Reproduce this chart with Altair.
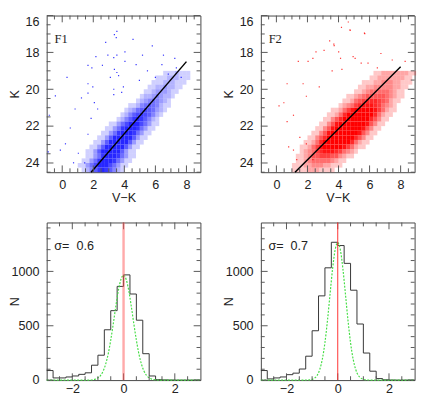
import altair as alt
import pandas as pd

# ---------------- data ----------------
# Top panels: K vs V-K density, rows 0.25 mag tall starting at ROW_K.
# Each row: first V-K bin (bins 0.25 wide) + density digits (0 empty .. 9 saturated)
ROW_K = [19.0, 19.25, 19.5, 19.75, 20.0, 20.25, 20.5, 20.75, 21.0, 21.25, 21.5,
         21.75, 22.0, 22.25, 22.5, 22.75, 23.0, 23.25, 23.5, 23.75, 24.0, 24.25]

F1_START = [5.75, 5.5, 5.25, 5.0, 4.75, 4.5, 4.25, 4.0, 3.75, 3.5, 3.25,
            3.0, 2.75, 2.5, 2.25, 2.0, 1.75, 1.5, 1.5, 1.25, 1.0, 1.0]
F1_DENS = ["0001112111000", "0011122211100", "0011122211100", "0011223221100",
           "0011233321100", "0012234322100", "0012345432100", "0112456542110",
           "0123567653210", "0124678764210", "0124689864210", "1135799975311",
           "1135899985311", "1135899985311", "1136999996311", "1136999996311",
           "1136999996311", "1136999996311", "1135899985311", "1135899985311",
           "1135799975311", "0124689864210"]

F2_START = [5.5, 5.25, 5.0, 4.75, 4.5, 4.25, 4.0, 3.75, 3.5, 3.25, 3.0,
            2.75, 2.5, 2.25, 2.0, 1.75, 1.5, 1.25, 1.0, 0.75, 0.5, 0.25]
F2_DENS = ["00011222222211000", "00011222222211000", "00111223332211100",
           "00112233333221100", "00112344444321100", "01123455555432110",
           "01124567776542110", "01234678887643210", "11246899999864211",
           "11247999999974211", "11357999999975311", "11358999999985311",
           "11358999999985311", "11358999999985311", "11357999999975311",
           "11247999999974211", "11246899999864211", "01234678887643210",
           "01123556665532110", "00112344444321100", "00111223332211100",
           "00011112221111000"]

# isolated stars outside the dense cloud
F1_PT_C = [3.52, 3.36, 3.48, 2.80, 4.04, 3.52, 2.94, 3.32, 2.17, 1.66, 1.91, 2.59, 3.36,
           3.52, 3.63, 3.10, 3.94, 3.32, 1.97, 1.66, 3.32, 3.83,
           4.56, 5.17, 5.80, 6.42, 6.83, 5.49, 7.35, 6.00, 7.66, 4.76, 4.04, 6.52, 4.97, 7.25,
           -0.83, -0.44, -0.12, 0.21, 0.52, 0.83, 1.24, 1.04, 1.45, 0.73, 1.66, 1.86, 2.07,
           2.28, 1.66, 0.31, -0.90]
F1_PT_K = [16.86, 17.03, 17.20, 17.46, 17.97, 18.15, 18.15, 18.28, 18.23, 18.70, 18.84, 18.70, 18.92,
           19.09, 19.26, 19.35, 19.87, 20.00, 19.87, 20.21, 20.29, 20.17,
           17.29, 18.15, 17.65, 18.66, 19.18, 19.00, 18.84, 19.35, 19.35, 18.66, 18.49, 18.15, 19.52, 18.32,
           21.41, 20.36, 23.30, 22.96, 22.10, 21.07, 20.47, 23.47, 23.99, 23.99, 22.44, 21.58, 20.72,
           21.07, 19.70, 19.35, 23.40]
F2_PT_C = [4.63, 4.74, 5.67, 3.43, 3.70, 2.55, 3.07, 4.01, 2.04, 2.35,
           4.94, 5.46, 4.22, 3.59, 6.50, 1.72, 1.93, 2.76, 0.48, 0.17,
           0.69, 1.10, 0.79, 1.10, 1.51, 1.93, 1.31, 2.35, 0.69, 1.41,
           4.19, 4.75, 5.69, 3.72, 4.13, 5.07, 5.90, 7.46, 8.29, 6.73]
F2_PT_K = [16.35, 16.77, 16.95, 17.37, 17.55, 17.97, 17.89, 17.97, 18.49, 18.32,
           18.23, 18.58, 18.92, 19.00, 18.84, 19.70, 20.38, 19.87, 20.73, 20.90,
           21.76, 21.41, 23.13, 23.30, 22.61, 22.96, 23.82, 23.82, 19.70, 18.49,
           16.64, 16.81, 16.98, 17.63, 18.32, 18.32, 18.58, 18.41, 18.49, 18.06]

# fitted lines
F1_LINE_C = [1.86, 8.0]
F1_LINE_K = [24.5, 18.5]
F2_LINE_C = [1.2, 8.0]
F2_LINE_K = [24.5, 18.78]

# Bottom panels: histograms (bins 0.25 wide from -3 to 3)
HIST_EDGES = [-3.0, -2.75, -2.5, -2.25, -2.0, -1.75, -1.5, -1.25, -1.0, -0.75, -0.5, -0.25,
              0.0, 0.25, 0.5, 0.75, 1.0, 1.25, 1.5, 1.75, 2.0, 2.25, 2.5, 2.75, 3.0]
HIST_F1 = [88, 20, 20, 29, 38, 53, 67, 137, 229, 463, 639, 862, 968, 792, 551, 243, 38, 4, 2, 1, 0, 0, 0, 0]
HIST_F2 = [88, 11, 20, 29, 50, 64, 102, 220, 454, 775, 1033, 1268, 1238, 1074, 827, 516, 249, 82, 14, 3, 1, 0, 0, 0]

# dotted gaussian curves
GAUSS_X = [-3.0, -1.4, -1.3, -1.2, -1.1, -1.0, -0.9, -0.8, -0.7, -0.6, -0.5, -0.4, -0.3, -0.2, -0.1,
           0.0, 0.1, 0.2, 0.3, 0.4, 0.5, 0.6, 0.7, 0.8, 0.9, 1.0, 1.1, 1.2, 1.3, 1.4, 3.0]
GAUSS_F1 = [0, 0, 1, 4, 9, 21, 42, 82, 146, 240, 368, 520, 682, 827, 928,
            965, 928, 827, 682, 520, 368, 240, 146, 82, 42, 21, 9, 4, 1, 0, 0]
GAUSS_F2 = [0, 0, 0, 1, 2, 7, 19, 45, 99, 194, 344, 550, 792, 1027, 1201,
            1265, 1201, 1027, 792, 550, 344, 194, 99, 45, 19, 7, 2, 1, 0, 0, 0]

# axis ticks / labels
TOP_X_LABELS = [0, 2, 4, 6, 8]
TOP_X_MINOR = [-0.5, 0.5, 1.0, 1.5, 2.5, 3.0, 3.5, 4.5, 5.0, 5.5, 6.5, 7.0, 7.5, 8.5]
TOP_Y_LABELS = [16, 18, 20, 22, 24]
TOP_Y_MINOR = [16.5, 17.0, 17.5, 18.5, 19.0, 19.5, 20.5, 21.0, 21.5, 22.5, 23.0, 23.5, 24.5]
BOT_X_LABELS = [-2, 0, 2]
BOT_X_MINOR = [-2.5, -1.5, -1.0, -0.5, 0.5, 1.0, 1.5, 2.5]
BOT_Y_LABELS = [0, 500, 1000]
BOT_Y_MINOR = [100, 200, 300, 400, 600, 700, 800, 900, 1100, 1200, 1300, 1400]

XDOM_TOP = [-1.0, 8.9]
YDOM_TOP = [16.0, 24.5]
XDOM_BOT = [-3.0, 3.0]
YDOM_BOT = [0, 1450]

# ---------------- styling ----------------
W, H1, H2 = 159, 162, 163
FONT = "Liberation Sans"
TXT = "#222222"
TICK = "#555555"
BLUE = "#0000ff"
RED = "#ff0000"
GREEN = "#44dd44"


def density_df(starts, dens, maxop):
    recs = []
    for k, c0, s in zip(ROW_K, starts, dens):
        for j, ch in enumerate(s):
            d = int(ch)
            if d:
                recs.append({"c1": c0 + 0.25 * j, "c2": c0 + 0.25 * (j + 1),
                             "k1": k, "k2": k + 0.25, "op": maxop * (d / 9.0) ** 0.7})
    return pd.DataFrame(recs)


def tick_layers(xenc, yenc, xminor, xmajor, yminor, ymajor, w, h):
    layers = []
    for vals, ln in ((xminor, 4), (xmajor, 7)):
        base = alt.Chart(pd.DataFrame({"v": vals})).mark_rule(color=TICK, strokeWidth=1)
        layers.append(base.encode(x=xenc("v"), y=alt.value(h), y2=alt.value(h - ln)))
        layers.append(base.encode(x=xenc("v"), y=alt.value(0), y2=alt.value(ln)))
    for vals, ln in ((yminor, 4), (ymajor, 7)):
        base = alt.Chart(pd.DataFrame({"v": vals})).mark_rule(color=TICK, strokeWidth=1)
        layers.append(base.encode(y=yenc("v"), x=alt.value(0), x2=alt.value(ln)))
        layers.append(base.encode(y=yenc("v"), x=alt.value(w), x2=alt.value(w - ln)))
    return layers


def yaxis(values, title, flush):
    return alt.Axis(values=values, title=title, format="d", labelPadding=8, minExtent=26.5,
                    maxExtent=26.5, titlePadding=0, grid=False, domain=False, ticks=False,
                    tickSize=0, labelFlush=flush, labelFont=FONT, labelFontSize=13, labelColor=TXT,
                    titleFont=FONT, titleFontSize=13, titleFontWeight="normal", titleColor=TXT)


def xaxis(values, title, pad):
    return alt.Axis(values=values, title=title, format="d", labelPadding=pad, labelFlush=False,
                    grid=False, domain=False, ticks=False, tickSize=0, labelFont=FONT,
                    labelFontSize=13, labelColor=TXT, titleFont=FONT, titleFontSize=13,
                    titleFontWeight="normal", titleColor=TXT, minExtent=20, maxExtent=20,
                    titlePadding=0)


def cmd_panel(starts, dens, maxop, col, pc, pk, lc, lk, label):
    xs = alt.Scale(domain=XDOM_TOP, nice=False, zero=False)
    ys = alt.Scale(domain=YDOM_TOP, reverse=True, nice=False, zero=False)
    xax = xaxis(TOP_X_LABELS, "V\u2212K", 7)
    yax = yaxis(TOP_Y_LABELS, "K", True)
    X = lambda f: alt.X(f + ":Q", scale=xs, axis=xax)
    Y = lambda f: alt.Y(f + ":Q", scale=ys, axis=yax)
    cloud = alt.Chart(density_df(starts, dens, maxop)).mark_rect(color=col, strokeWidth=0).encode(
        x=X("c1"), x2="c2:Q", y=Y("k1"), y2="k2:Q",
        opacity=alt.Opacity("op:Q", scale=None))
    pts = alt.Chart(pd.DataFrame({"c": pc, "k": pk})).mark_square(size=1.5, color=col, opacity=0.8).encode(
        x=X("c"), y=Y("k"))
    line = alt.Chart(pd.DataFrame({"c": lc, "k": lk})).mark_line(color="black", strokeWidth=1.5).encode(
        x=X("c"), y=Y("k"))
    txt = alt.Chart(pd.DataFrame({"c": [-0.5], "k": [17.3], "t": [label]})).mark_text(
        align="left", baseline="middle", font="Liberation Serif", fontSize=13, color=TXT).encode(
        x=X("c"), y=Y("k"), text="t:N")
    ticks = tick_layers(X, Y, TOP_X_MINOR, TOP_X_LABELS, TOP_Y_MINOR, TOP_Y_LABELS, W, H1)
    return alt.layer(cloud, pts, line, txt, *ticks).properties(width=W, height=H1)


def hist_panel(counts, gauss, redw, redcol, redop, sig):
    xs = alt.Scale(domain=XDOM_BOT, nice=False, zero=False)
    ys = alt.Scale(domain=YDOM_BOT, nice=False, zero=False)
    xax = xaxis(BOT_X_LABELS, "", 3)
    yax = yaxis(BOT_Y_LABELS, "N", False)
    X = lambda f: alt.X(f + ":Q", scale=xs, axis=xax)
    Y = lambda f: alt.Y(f + ":Q", scale=ys, axis=yax)
    hist = alt.Chart(pd.DataFrame({"x": HIST_EDGES, "n": counts + [counts[-1]]})).mark_line(
        interpolate="step-after", color="#333333", strokeWidth=1).encode(x=X("x"), y=Y("n"))
    g = alt.Chart(pd.DataFrame({"x": GAUSS_X, "n": gauss})).mark_line(
        color=GREEN, strokeDash=[2, 1.5], strokeWidth=1.2, interpolate="monotone").encode(
        x=X("x"), y=Y("n"))
    txt = alt.Chart(pd.DataFrame({"x": [-2.7], "n": [1235], "t": [sig]})).mark_text(
        align="left", baseline="middle", font=FONT, fontSize=13, color=TXT).encode(
        x=X("x"), y=Y("n"), text="t:N")
    ticks = tick_layers(X, Y, BOT_X_MINOR, BOT_X_LABELS, BOT_Y_MINOR, BOT_Y_LABELS, W, H2)
    red = alt.Chart(pd.DataFrame({"x": [0.0]})).mark_rule(
        color=redcol, strokeWidth=redw, opacity=redop).encode(x=X("x"))
    return alt.layer(hist, g, txt, *ticks, red).properties(width=W, height=H2)


tl = cmd_panel(F1_START, F1_DENS, 0.85, BLUE, F1_PT_C, F1_PT_K, F1_LINE_C, F1_LINE_K, "F1")
tr = cmd_panel(F2_START, F2_DENS, 1.0, RED, F2_PT_C, F2_PT_K, F2_LINE_C, F2_LINE_K, "F2")
bl = hist_panel(HIST_F1, GAUSS_F1, 2.5, "#ff5555", 0.5, "\u03c3=\u00a0 0.6")
br = hist_panel(HIST_F2, GAUSS_F2, 1, "#ff3030", 1.0, "\u03c3=\u00a0 0.7")

chart = alt.concat(tl, tr, bl, br, columns=2, spacing={"row": 16, "column": 19.5}).properties(
    padding={"left": 0, "top": 0, "right": 0, "bottom": 0}
).configure_view(stroke="#444444", strokeWidth=1)

chart.save("out.html", embed_options={"renderer": "svg", "actions": False})
